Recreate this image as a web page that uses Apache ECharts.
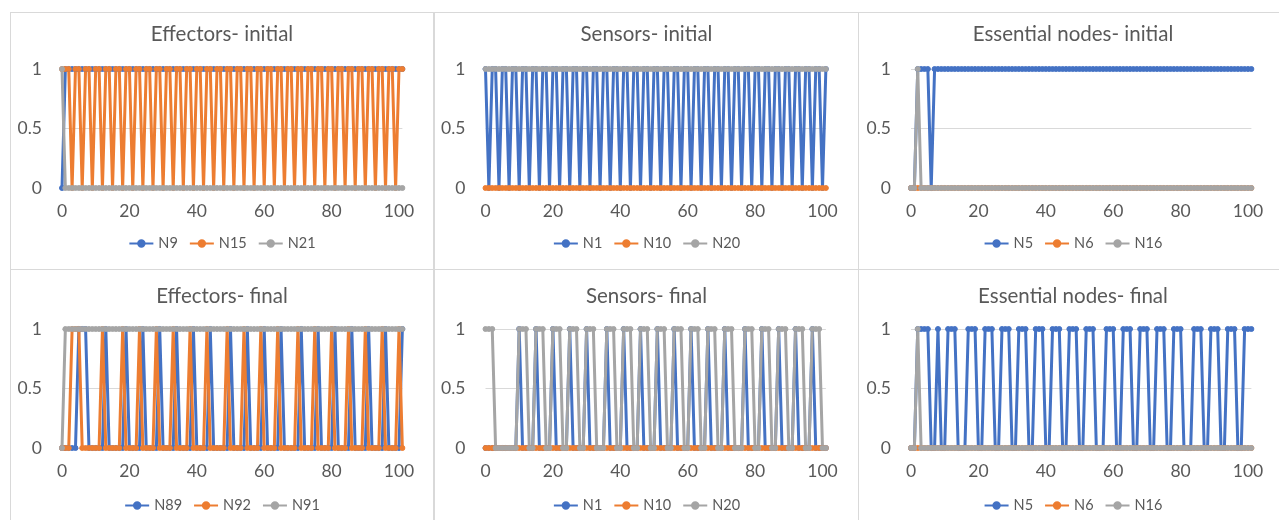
<!DOCTYPE html>
<html><head><meta charset="utf-8">
<script src="https://cdn.jsdelivr.net/npm/echarts@6/dist/echarts.min.js"></script>
<style>
html,body{margin:0;padding:0;background:#fff;overflow:hidden;width:1279px;height:520px}
.p{position:absolute;border:1px solid #d9d9d9;box-sizing:border-box;background:#fff}
</style>
</head><body>
<div id="p1" class="p" style="left:10px;top:12px;width:424px;height:258px"></div>
<div id="p2" class="p" style="left:434px;top:12px;width:425px;height:258px"></div>
<div id="p3" class="p" style="left:858px;top:12px;width:430px;height:258px"></div>
<div id="p4" class="p" style="left:10px;top:269px;width:424px;height:260px"></div>
<div id="p5" class="p" style="left:434px;top:269px;width:425px;height:260px"></div>
<div id="p6" class="p" style="left:858px;top:269px;width:430px;height:260px"></div>
<script>
const xTicks = [0, 20, 40, 60, 80, 100];
const yTicks = [0, 0.5, 1];
const titles = ["Effectors- initial", "Sensors- initial", "Essential nodes- initial",
                "Effectors- final", "Sensors- final", "Essential nodes- final"];
const names = [["N9","N15","N21"],["N1","N10","N20"],["N5","N6","N16"],
               ["N89","N92","N91"],["N1","N10","N20"],["N5","N6","N16"]];

// each array: steps 0..101, ten values per group
// ---- Effectors initial
const effInitN9 = [0,1,1,1,1,1,1,1,1,1, 1,1,1,1,1,1,1,1,1,1, 1,1,1,1,1,1,1,1,1,1, 1,1,1,1,1,1,1,1,1,1, 1,1,1,1,1,1,1,1,1,1,
                   1,1,1,1,1,1,1,1,1,1, 1,1,1,1,1,1,1,1,1,1, 1,1,1,1,1,1,1,1,1,1, 1,1,1,1,1,1,1,1,1,1, 1,1,1,1,1,1,1,1,1,1, 1,1];
const effInitN15 = [1,1,1,0,1,1,0,1,1,0, 1,1,0,1,1,0,1,1,0,1, 1,0,1,1,0,1,1,0,1,1, 0,1,1,0,1,1,0,1,1,0, 1,1,0,1,1,0,1,1,0,1,
                    1,0,1,1,0,1,1,0,1,1, 0,1,1,0,1,1,0,1,1,0, 1,1,0,1,1,0,1,1,0,1, 1,0,1,1,0,1,1,0,1,1, 0,1,1,0,1,1,0,1,1,0, 1,1];
const effInitN21 = [1,0,0,0,0,0,0,0,0,0, 0,0,0,0,0,0,0,0,0,0, 0,0,0,0,0,0,0,0,0,0, 0,0,0,0,0,0,0,0,0,0, 0,0,0,0,0,0,0,0,0,0,
                    0,0,0,0,0,0,0,0,0,0, 0,0,0,0,0,0,0,0,0,0, 0,0,0,0,0,0,0,0,0,0, 0,0,0,0,0,0,0,0,0,0, 0,0,0,0,0,0,0,0,0,0, 0,0];
// ---- Sensors initial
const sensInitN1 = [1,0,1,1,0,1,1,0,1,1, 0,1,1,0,1,1,0,1,1,0, 1,1,0,1,1,0,1,1,0,1, 1,0,1,1,0,1,1,0,1,1, 0,1,1,0,1,1,0,1,1,0,
                    1,1,0,1,1,0,1,1,0,1, 1,0,1,1,0,1,1,0,1,1, 0,1,1,0,1,1,0,1,1,0, 1,1,0,1,1,0,1,1,0,1, 1,0,1,1,0,1,1,0,1,1, 0,1];
const sensInitN10 = [0,0,0,0,0,0,0,0,0,0, 0,0,0,0,0,0,0,0,0,0, 0,0,0,0,0,0,0,0,0,0, 0,0,0,0,0,0,0,0,0,0, 0,0,0,0,0,0,0,0,0,0,
                     0,0,0,0,0,0,0,0,0,0, 0,0,0,0,0,0,0,0,0,0, 0,0,0,0,0,0,0,0,0,0, 0,0,0,0,0,0,0,0,0,0, 0,0,0,0,0,0,0,0,0,0, 0,0];
const sensInitN20 = [1,1,1,1,1,1,1,1,1,1, 1,1,1,1,1,1,1,1,1,1, 1,1,1,1,1,1,1,1,1,1, 1,1,1,1,1,1,1,1,1,1, 1,1,1,1,1,1,1,1,1,1,
                     1,1,1,1,1,1,1,1,1,1, 1,1,1,1,1,1,1,1,1,1, 1,1,1,1,1,1,1,1,1,1, 1,1,1,1,1,1,1,1,1,1, 1,1,1,1,1,1,1,1,1,1, 1,1];
// ---- Essential nodes initial
const essInitN5 = [0,0,1,1,1,1,0,1,1,1, 1,1,1,1,1,1,1,1,1,1, 1,1,1,1,1,1,1,1,1,1, 1,1,1,1,1,1,1,1,1,1, 1,1,1,1,1,1,1,1,1,1,
                   1,1,1,1,1,1,1,1,1,1, 1,1,1,1,1,1,1,1,1,1, 1,1,1,1,1,1,1,1,1,1, 1,1,1,1,1,1,1,1,1,1, 1,1,1,1,1,1,1,1,1,1, 1,1];
const essInitN6 = [0,0,0,0,0,0,0,0,0,0, 0,0,0,0,0,0,0,0,0,0, 0,0,0,0,0,0,0,0,0,0, 0,0,0,0,0,0,0,0,0,0, 0,0,0,0,0,0,0,0,0,0,
                   0,0,0,0,0,0,0,0,0,0, 0,0,0,0,0,0,0,0,0,0, 0,0,0,0,0,0,0,0,0,0, 0,0,0,0,0,0,0,0,0,0, 0,0,0,0,0,0,0,0,0,0, 0,0];
const essInitN16 = [0,0,1,0,0,0,0,0,0,0, 0,0,0,0,0,0,0,0,0,0, 0,0,0,0,0,0,0,0,0,0, 0,0,0,0,0,0,0,0,0,0, 0,0,0,0,0,0,0,0,0,0,
                    0,0,0,0,0,0,0,0,0,0, 0,0,0,0,0,0,0,0,0,0, 0,0,0,0,0,0,0,0,0,0, 0,0,0,0,0,0,0,0,0,0, 0,0,0,0,0,0,0,0,0,0, 0,0];
// ---- Effectors final
const effFinN89 = [0,0,0,0,0,1,1,1,0,0, 0,0,0,1,0,0,0,0,0,1, 0,0,0,0,1,0,0,0,0,1, 0,0,0,0,1,0,0,0,0,1, 0,0,0,0,1,0,0,0,0,0,
                   1,0,0,0,0,1,0,0,0,0, 1,0,0,0,0,1,0,0,0,0, 0,1,0,0,0,0,1,0,0,0, 0,1,0,0,0,0,1,0,0,0, 0,1,0,0,0,0,1,0,0,0, 0,1];
const effFinN92 = [0,0,0,1,1,1,0,0,0,0, 0,0,1,0,0,0,0,0,1,0, 0,0,0,1,0,0,0,0,1,0, 0,0,0,1,0,0,0,0,1,0, 0,0,0,1,0,0,0,0,0,1,
                   0,0,0,0,1,0,0,0,0,1, 0,0,0,0,1,0,0,0,0,0, 1,0,0,0,0,1,0,0,0,0, 1,0,0,0,0,1,0,0,0,0, 1,0,0,0,0,1,0,0,0,0, 1,0];
const effFinN91 = [0,1,1,1,1,1,1,1,1,1, 1,1,1,1,1,1,1,1,1,1, 1,1,1,1,1,1,1,1,1,1, 1,1,1,1,1,1,1,1,1,1, 1,1,1,1,1,1,1,1,1,1,
                   1,1,1,1,1,1,1,1,1,1, 1,1,1,1,1,1,1,1,1,1, 1,1,1,1,1,1,1,1,1,1, 1,1,1,1,1,1,1,1,1,1, 1,1,1,1,1,1,1,1,1,1, 1,1];
// ---- Sensors final
const sensFinN1 = [0,0,0,0,0,0,0,0,0,0, 1,0,0,0,0,1,0,0,0,0, 1,0,0,0,0,1,0,0,0,0, 1,0,0,0,0,0,1,0,0,0, 0,1,0,0,0,0,1,0,0,0,
                   0,1,0,0,0,0,1,0,0,0, 0,1,0,0,0,0,1,0,0,0, 0,1,0,0,0,0,0,1,0,0, 0,0,1,0,0,0,0,1,0,0, 0,0,1,0,0,0,0,1,0,0, 0,0];
const sensFinN10 = [0,0,0,0,0,0,0,0,0,0, 0,0,0,0,0,0,0,0,0,0, 0,0,0,0,0,0,0,0,0,0, 0,0,0,0,0,0,0,0,0,0, 0,0,0,0,0,0,0,0,0,0,
                    0,0,0,0,0,0,0,0,0,0, 0,0,0,0,0,0,0,0,0,0, 0,0,0,0,0,0,0,0,0,0, 0,0,0,0,0,0,0,0,0,0, 0,0,0,0,0,0,0,0,0,0, 0,0];
const sensFinN20 = [1,1,1,0,0,0,0,0,0,0, 1,1,1,0,0,1,1,1,0,0, 1,1,1,0,0,1,1,1,0,0, 1,1,1,0,0,0,1,1,1,0, 0,1,1,1,0,0,1,1,1,0,
                    0,1,1,1,0,0,1,1,1,0, 0,1,1,1,0,0,1,1,1,0, 0,1,1,1,0,0,0,1,1,1, 0,0,1,1,1,0,0,1,1,1, 0,0,1,1,1,0,0,1,1,1, 0,0];
// ---- Essential nodes final
const essFinN5 = [0,0,1,1,1,1,0,0,1,0, 0,1,1,1,0,0,0,1,1,1, 0,0,1,1,1,0,0,1,1,1, 0,0,1,1,1,0,0,1,1,1, 0,0,1,1,1,0,0,1,1,1,
                  0,0,1,1,1,0,0,0,1,1, 1,0,0,1,1,1,0,0,1,1, 1,0,0,1,1,1,0,0,1,1, 1,0,0,0,1,1,1,0,0,1, 1,1,0,0,1,1,1,0,0,1, 1,1];
const essFinN6 = [0,0,0,0,0,0,0,0,0,0, 0,0,0,0,0,0,0,0,0,0, 0,0,0,0,0,0,0,0,0,0, 0,0,0,0,0,0,0,0,0,0, 0,0,0,0,0,0,0,0,0,0,
                  0,0,0,0,0,0,0,0,0,0, 0,0,0,0,0,0,0,0,0,0, 0,0,0,0,0,0,0,0,0,0, 0,0,0,0,0,0,0,0,0,0, 0,0,0,0,0,0,0,0,0,0, 0,0];
const essFinN16 = [0,0,1,0,0,0,0,0,0,0, 0,0,0,0,0,0,0,0,0,0, 0,0,0,0,0,0,0,0,0,0, 0,0,0,0,0,0,0,0,0,0, 0,0,0,0,0,0,0,0,0,0,
                   0,0,0,0,0,0,0,0,0,0, 0,0,0,0,0,0,0,0,0,0, 0,0,0,0,0,0,0,0,0,0, 0,0,0,0,0,0,0,0,0,0, 0,0,0,0,0,0,0,0,0,0, 0,0];

const panelData = [
  [effInitN9, effInitN15, effInitN21],
  [sensInitN1, sensInitN10, sensInitN20],
  [essInitN5, essInitN6, essInitN16],
  [effFinN89, effFinN92, effFinN91],
  [sensFinN1, sensFinN10, sensFinN20],
  [essFinN5, essFinN6, essFinN16]
];
const colors = ['#4472C4', '#ED7D31', '#A5A5A5'];
const FONT = 'Lato, "Noto Sans", sans-serif';
const TXT = '#595959';
const UNIT = 3.37; // px per step

function makeOption(k) {
  const top = k < 3;
  const gridLeft = [51, 50.5, 52][k % 3];
  const gridTop = top ? 56 : 59;
  const xMax = panelData[k][0].length - 1;
  return {
    animation: false,
    color: colors,
    textStyle: { fontFamily: FONT },
    title: { text: titles[k], left: 'center', top: top ? 6 : 11,
      textStyle: { fontFamily: FONT, fontSize: 20.5, fontWeight: 'normal', color: TXT } },
    legend: { data: names[k], left: 'center', top: top ? 218 : 223, itemWidth: 24, itemHeight: 8, itemGap: 11,
      textStyle: { fontFamily: FONT, fontSize: 14.5, color: TXT } },
    grid: { left: gridLeft, top: gridTop, width: xMax * UNIT, height: 119 },
    xAxis: { type: 'value', min: xTicks[0], max: xMax, interval: xTicks[1] - xTicks[0],
      axisLine: { show: true, lineStyle: { color: '#d9d9d9' } }, axisTick: { show: false },
      splitLine: { show: false },
      axisLabel: { fontFamily: FONT, fontSize: 17.5, color: TXT, margin: 14,
        formatter: v => (xTicks.indexOf(v) >= 0 ? String(v) : '') } },
    yAxis: { type: 'value', min: yTicks[0], max: yTicks[yTicks.length - 1], interval: yTicks[1] - yTicks[0],
      axisLine: { show: false }, axisTick: { show: false },
      splitLine: { lineStyle: { color: '#d9d9d9' } },
      axisLabel: { fontFamily: FONT, fontSize: 17.5, color: TXT, margin: 20 } },
    series: panelData[k].map((arr, j) => ({
      name: names[k][j], type: 'line', symbol: 'circle', symbolSize: 5, showAllSymbol: true,
      lineStyle: { width: 3 }, itemStyle: { borderWidth: 1, borderColor: colors[j] },
      data: arr.map((v, i) => [i, v])
    }))
  };
}
for (let k = 0; k < 6; k++) {
  const c = echarts.init(document.getElementById('p' + (k + 1)), null, { renderer: 'canvas' });
  c.setOption(makeOption(k));
}
</script>
</body></html>
